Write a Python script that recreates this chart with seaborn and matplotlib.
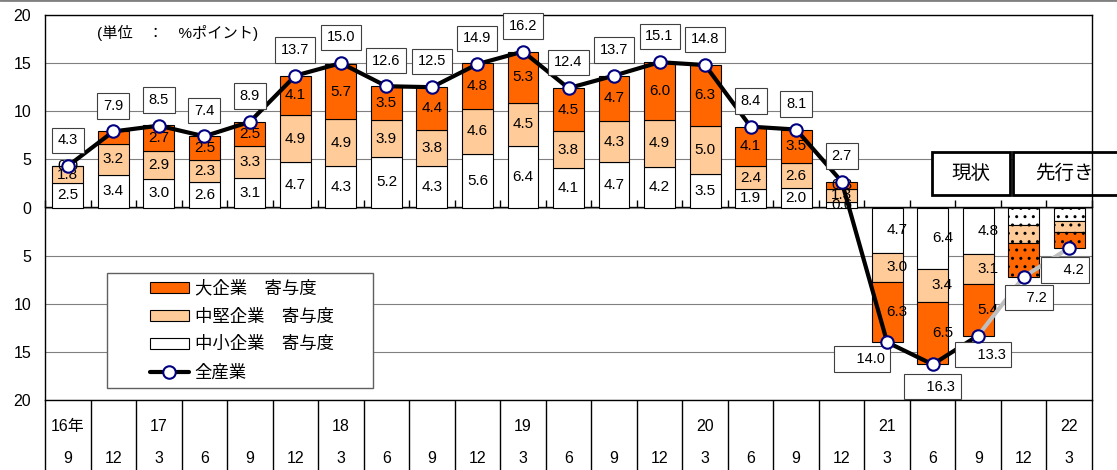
import numpy as np
import pandas as pd
import matplotlib
matplotlib.use("Agg")
import matplotlib.pyplot as plt
from matplotlib.patches import Patch, Rectangle
from matplotlib.lines import Line2D
import seaborn as sns

# ---- data -------------------------------------------------------------
periods = ["16/9", "16/12", "17/3", "17/6", "17/9", "17/12", "18/3", "18/6",
           "18/9", "18/12", "19/3", "19/6", "19/9", "19/12", "20/3", "20/6",
           "20/9", "20/12", "21/3", "21/6", "21/9", "21/12", "22/3"]
year_labels = ["16年", "", "17", "", "", "", "18", "", "", "", "19", "", "",
               "", "20", "", "", "", "21", "", "", "", "22"]
month_labels = ["9", "12", "3", "6", "9", "12", "3", "6", "9", "12", "3", "6",
                "9", "12", "3", "6", "9", "12", "3", "6", "9", "12", "3"]

small_firms = [2.5, 3.4, 3.0, 2.6, 3.1, 4.7, 4.3, 5.2, 4.3, 5.6, 6.4, 4.1,
               4.7, 4.2, 3.5, 1.9, 2.0, 0.6, -4.7, -6.4, -4.8, -1.8, -1.4]
midsize_firms = [1.8, 3.2, 2.9, 2.3, 3.3, 4.9, 4.9, 3.9, 3.8, 4.6, 4.5, 3.8,
                 4.3, 4.9, 5.0, 2.4, 2.6, 1.3, -3.0, -3.4, -3.1, -1.9, -1.1]
large_firms = [0.0, 1.3, 2.7, 2.5, 2.5, 4.1, 5.7, 3.5, 4.4, 4.8, 5.3, 4.5,
               4.7, 6.0, 6.3, 4.1, 3.5, 0.8, -6.3, -6.5, -5.4, -3.5, -1.7]
all_industries = [4.3, 7.9, 8.5, 7.4, 8.9, 13.7, 15.0, 12.6, 12.5, 14.9, 16.2,
                  12.4, 13.7, 15.1, 14.8, 8.4, 8.1, 2.7, -14.0, -16.3, -13.3,
                  -7.2, -4.2]
is_forecast = [False] * 21 + [True, True]

# segments whose value label is not printed
unlabelled = {("large", "16/12")}

# ---- style ------------------------------------------------------------
ORANGE = "#FF6600"
PEACH = "#FFCC99"
WHITE = "#FFFFFF"
NAVY = "#000080"
FORECAST_LINE = "#BFBFBF"

sns.set_theme(style="white", rc={
    "text.color": "black", "axes.labelcolor": "black",
    "xtick.color": "black", "ytick.color": "black",
    "axes.edgecolor": "black", "hatch.linewidth": 1.0,
})
plt.rcParams["font.family"] = ["Liberation Sans", "Noto Sans CJK JP"]

W, H = 1117, 470
fig = plt.figure(figsize=(W / 100, H / 100), dpi=100)
ax = fig.add_axes([45 / W, 70 / H, 1047 / W, 385 / H])

df = pd.DataFrame({
    "period": periods,
    "small": small_firms,
    "mid": midsize_firms,
    "large": large_firms,
    "total": all_industries,
})
n = len(df)
pos = np.arange(n)

small_arr = np.array(small_firms)
mid_arr = np.array(midsize_firms)

layers = [
    ("small", WHITE, np.zeros(n)),
    ("mid", PEACH, small_arr),
    ("large", ORANGE, small_arr + mid_arr),
]

# ---- stacked bars -----------------------------------------------------
for col, colour, base in layers:
    sns.barplot(data=df, x="period", y=col, bottom=base, color=colour,
                saturation=1, edgecolor="black", linewidth=0.8, width=0.68,
                errorbar=None, ax=ax, zorder=2)
    for patch, fc in zip(ax.containers[-1], is_forecast):
        if fc:
            patch.set_hatch("..")

    vals = df[col].to_numpy()
    for i, (v, b) in enumerate(zip(vals, base)):
        if is_forecast[i] or (col, periods[i]) in unlabelled:
            continue
        dx = 7 if v < 0 else 0
        ax.annotate(f"{abs(v):.1f}", (i, b + v / 2), xytext=(dx, 0),
                    textcoords="offset points", ha="center", va="center",
                    fontsize=11, zorder=3)

# ---- total line -------------------------------------------------------
last_actual = max(i for i, f in enumerate(is_forecast) if not f)
total = df["total"].to_numpy()
sns.lineplot(x=pos[:last_actual + 1], y=total[:last_actual + 1], color="black",
             linewidth=3, errorbar=None, sort=False, ax=ax, zorder=4)
sns.lineplot(x=pos[last_actual:], y=total[last_actual:], color=FORECAST_LINE,
             linewidth=3, errorbar=None, sort=False, ax=ax, zorder=4)
sns.scatterplot(x=pos, y=total, s=80, color="white", edgecolor=NAVY,
                linewidth=1.5, ax=ax, zorder=6, legend=False)

# total value boxes
box_style = dict(boxstyle="square,pad=0.4", fc="white", ec="#404040", lw=0.8)
neg_offsets = [(-18, -12), (0, -16), (3.6, -13.7), (3.6, -15), (-2.9, -15.8)]
k = 0
for i, v in enumerate(total):
    if v >= 0:
        ax.annotate(f"{v:.1f}", (i, v), xytext=(0, 18.5),
                    textcoords="offset points", ha="center", va="center",
                    fontsize=10.5, bbox=box_style, zorder=5)
    else:
        ox, oy = neg_offsets[k]
        k += 1
        ax.annotate("    " + f"{abs(v):.1f}", (i, v), xytext=(ox, oy),
                    textcoords="offset points", ha="center", va="center",
                    fontsize=10.5, bbox=box_style, zorder=5)

# ---- axes -------------------------------------------------------------
ax.set_xlabel("")
ax.set_ylabel("")
ax.set_xlim(-0.5, n - 0.5)
ax.set_ylim(-20, 20)
yt = np.arange(-20, 21, 5)
ax.set_yticks(yt, [f"{abs(v)}" for v in yt])
ax.tick_params(axis="y", left=False, length=0, pad=10, labelsize=11.5)
ax.set_axisbelow(True)
ax.yaxis.grid(True, color="#808080", linewidth=0.8)
ax.xaxis.grid(False)
for sp in ax.spines.values():
    sp.set_visible(True)
    sp.set_color("black")
    sp.set_linewidth(1.0)

# month row + table separators
ax.set_xticks(pos, month_labels)
ax.set_xticks(np.arange(-0.5, n, 1.0), minor=True)
ax.tick_params(axis="x", which="major", bottom=False, length=0, pad=37,
               labelsize=11.5)
ax.tick_params(axis="x", which="minor", bottom=True, direction="out",
               length=52, width=1.0, color="black")

# year row
year_axis = ax.secondary_xaxis("bottom")
year_axis.set_xticks(pos, year_labels)
year_axis.tick_params(axis="x", length=0, pad=14, labelsize=11.5)
year_axis.spines["bottom"].set_visible(False)

# zero line with category ticks
zero_axis = ax.secondary_xaxis(0.5)
zero_axis.set_xticks(np.arange(-0.5, n, 1.0))
zero_axis.tick_params(axis="x", top=True, bottom=False, direction="out",
                      length=5, width=1.0, color="black",
                      labeltop=False, labelbottom=False)
for sp in zero_axis.spines.values():
    sp.set_color("black")
    sp.set_linewidth(1.0)

# ---- legend -----------------------------------------------------------
handles = [
    Patch(fc=ORANGE, ec="black", lw=0.8, label="大企業　寄与度"),
    Patch(fc=PEACH, ec="black", lw=0.8, label="中堅企業　寄与度"),
    Patch(fc=WHITE, ec="black", lw=0.8, label="中小企業　寄与度"),
    Line2D([], [], color="black", lw=3, marker="o", ms=9, mfc="white",
           mec=NAVY, mew=1.5, label="全産業"),
]
leg = ax.legend(handles=handles, loc="upper left",
                bbox_to_anchor=(150 / W, 1 - 280 / H),
                bbox_transform=fig.transFigure, frameon=False, borderpad=0,
                borderaxespad=0, handlelength=2.24, handleheight=0.57,
                handletextpad=0.34, labelspacing=0.68, fontsize=12.5)
leg.set_zorder(7)
ax.add_patch(Rectangle((107 / W, 1 - 388 / H), 266 / W, 115 / H,
                       transform=fig.transFigure, fc="white", ec="#606060",
                       lw=1.0, zorder=6.5, clip_on=False))

# ---- annotations ------------------------------------------------------
ax.text(0.0497, 0.953, "(単位　：　%ポイント)", transform=ax.transAxes,
        ha="left", va="center", fontsize=11, zorder=3)

ax.add_patch(Rectangle((0.8472, 0.5325), 0.0745, 0.1117, transform=ax.transAxes,
                       fc="white", ec="black", lw=2, clip_on=False, zorder=2.2))
ax.text(0.8845, 0.588, "現状", transform=ax.transAxes, ha="center",
        va="center", fontsize=14, zorder=2.3)
ax.add_patch(Rectangle((0.9245, 0.5325), 0.12, 0.1117, transform=ax.transAxes,
                       fc="white", ec="black", lw=2, clip_on=False, zorder=2.2))
ax.text(0.974, 0.588, "先行き", transform=ax.transAxes, ha="center",
        va="center", fontsize=14, zorder=2.3)

fig.add_artist(Line2D([0, 1], [1, 1], transform=fig.transFigure,
                      color="#808080", lw=2))

fig.savefig("out.png", dpi=100, facecolor="white")
